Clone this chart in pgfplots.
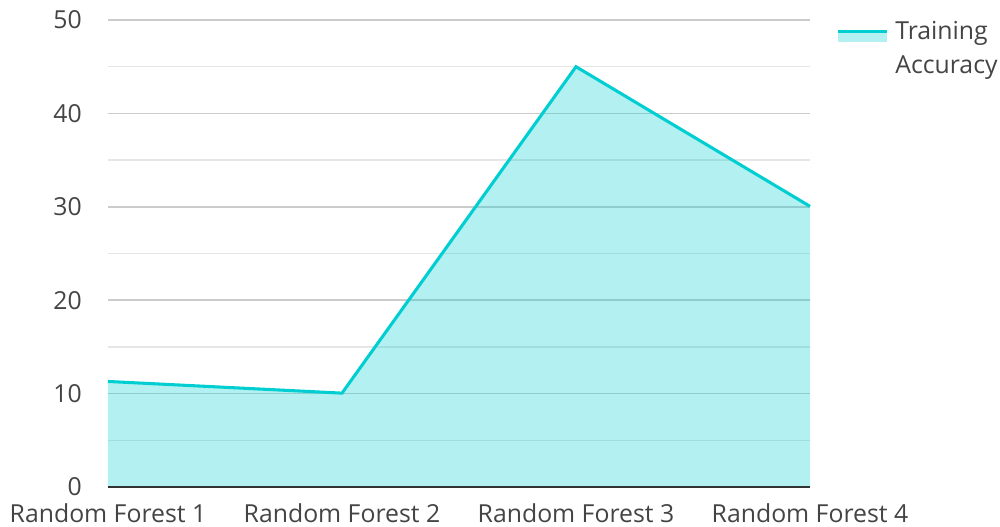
\documentclass[border=0pt]{standalone}
\usepackage{pgfplots}
\pgfplotsset{compat=1.18}
\usepackage{fontspec}
\setmainfont{Open Sans}
\definecolor{linec}{HTML}{00CED1}
\definecolor{txt}{HTML}{444444}
\definecolor{majg}{HTML}{CCCCCC}
\definecolor{ming}{HTML}{E6E6E6}
\definecolor{axc}{HTML}{333333}
\begin{document}
\begin{tikzpicture}
\useasboundingbox (-81pt,-29.25pt) rectangle (669pt,365.25pt);
\begin{axis}[
  at={(0pt,0pt)}, anchor=origin,
  scale only axis,
  width=526.5pt, height=350.25pt,
  xmin=0, xmax=3, ymin=0, ymax=50,
  xtick={0,1,2,3},
  xticklabels={Random Forest 1,Random Forest 2,Random Forest 3,Random Forest 4},
  ytick={0,10,20,30,40,50},
  minor ytick={5,15,25,35,45},
  ymajorgrids, yminorgrids,
  major grid style={majg, line width=1.1pt},
  minor grid style={ming, line width=1.1pt},
  axis x line*=bottom, axis y line*=left,
  x axis line style={draw=none},
  y axis line style={draw=none},
  major tick length=0pt, minor tick length=0pt,
  tick style={draw=none},
  /pgf/number format/assume math mode=true,
  tick label style={font=\fontsize{18.6}{22}\selectfont, text=txt},
  yticklabel style={inner sep=0pt, xshift=-19.5pt},
  xticklabel style={inner sep=0pt, yshift=-12.5pt},
  clip=false,
  legend style={at={(rel axis cs:1.037,1.004)}, anchor=north west, draw=none, fill=none,
    font=\fontsize{18.6}{25.5}\selectfont, text=txt, inner sep=0pt, cells={align=left}},
  legend cell align=left,
]
\addplot[draw=none, fill=linec, fill opacity=0.3, forget plot] coordinates {(0,11.3) (1,10.05) (2,45) (3,30.05)} \closedcycle;
\addplot[linec, line width=2.3pt, line join=miter,
  legend image code/.code={
    \path[draw=none, fill=linec, fill opacity=0.3] (0pt,5pt) rectangle (37pt,12.75pt);
    \draw[linec, line width=2.3pt] (0pt,12.75pt) -- (37pt,12.75pt);
    \path (0pt,-12.75pt) (40pt,0pt);
  }] coordinates {(0,11.3) (1,10.05) (2,45) (3,30.05)};
\addlegendentry{Training\\Accuracy}
\draw[axc, line width=1.5pt] (rel axis cs:0,0) -- (rel axis cs:1,0);
\end{axis}
\end{tikzpicture}
\end{document}
